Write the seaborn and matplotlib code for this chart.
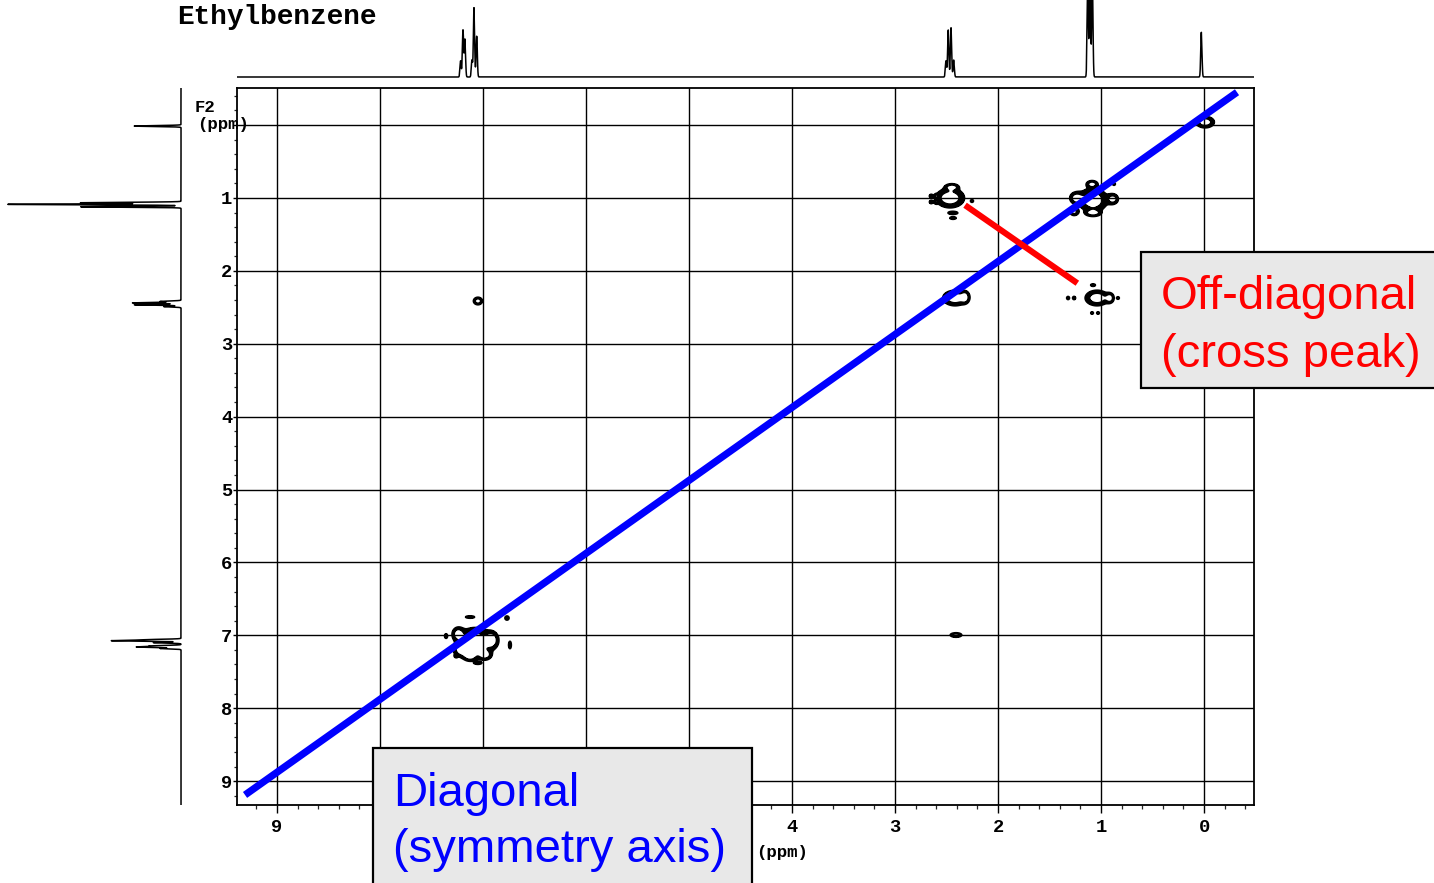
import numpy as np
import matplotlib
matplotlib.use("Agg")
import matplotlib.pyplot as plt
from matplotlib.patches import Rectangle
import seaborn as sns

W, H = 1434, 883

# ---- 1D projections: chemical shift (ppm) and relative height ----
f1_shift = [7.217, 7.194, 7.175, 7.107, 7.087, 7.061,
            2.505, 2.483, 2.456, 2.430,
            1.129, 1.107, 1.084,
            0.026]
f1_height = [0.21, 0.61, 0.49, 0.22, 0.90, 0.53,
             0.21, 0.61, 0.64, 0.22,
             1.20, 1.50, 1.20,
             0.58]

f2_shift = [7.180, 7.160, 7.145, 7.100, 7.074, 7.060,
            2.490, 2.465, 2.440, 2.420,
            1.121, 1.088, 1.066,
            0.014]
f2_height = [0.12, 0.25, 0.17, 0.16, 0.39, 0.18,
             0.10, 0.27, 0.28, 0.12,
             0.58, 1.00, 0.58,
             0.27]
line_sigma = 0.006

# ---- 2D COSY peak table: F1, F2 (ppm), amplitude, F1 / F2 widths (ppm) ----
peak_f1 = [-0.010,
           1.078, 1.087, 1.243, 1.262, 0.883, 1.078, 0.874,
           2.417, 2.320,
           2.466, 2.447, 2.437, 2.437, 2.650, 2.650, 2.602, 2.602, 2.252,
           1.039, 1.320, 1.262, 0.913, 0.835, 1.078, 1.087, 1.029,
           7.078, 7.204, 7.126, 6.981, 6.913, 7.243, 7.126, 6.767, 7.359, 6.738, 7.049, 7.262,
           7.049, 2.408, 0.427]
peak_f2 = [-0.040,
           1.029, 0.809, 1.001, 1.193, 1.015, 1.207, 0.809,
           2.373, 2.360,
           1.001, 0.850, 1.207, 1.276, 0.974, 1.056, 0.974, 1.056, 1.042,
           2.373, 2.373, 2.373, 2.373, 2.373, 2.195, 2.579, 2.579,
           7.092, 7.202, 7.284, 7.270, 7.064, 6.979, 6.749, 6.763, 7.010, 7.133, 7.380, 7.284,
           2.414, 6.996, 0.316]
peak_amp = [1.0,
            1.0, 0.9, 0.9, 0.8, 0.9, 0.9, 0.55,
            1.0, 0.9,
            1.0, 0.9, 0.55, 0.55, 0.55, 0.55, 0.55, 0.55, 0.5,
            1.0, 0.55, 0.55, 0.9, 0.5, 0.55, 0.5, 0.5,
            1.0, 0.9, 0.9, 0.9, 0.9, 0.9, 0.55, 0.55, 0.55, 0.55, 0.55, 0.5,
            1.0, 0.9, 0.55]
peak_w1 = [0.060,
           0.094, 0.034, 0.039, 0.029, 0.034, 0.045, 0.012,
           0.080, 0.024,
           0.094, 0.039, 0.039, 0.029, 0.012, 0.012, 0.012, 0.012, 0.012,
           0.077, 0.013, 0.013, 0.024, 0.012, 0.020, 0.013, 0.013,
           0.114, 0.049, 0.039, 0.039, 0.039, 0.034, 0.039, 0.019, 0.012, 0.012, 0.029, 0.012,
           0.029, 0.039, 0.019]
peak_w2 = [0.052,
           0.110, 0.030, 0.050, 0.034, 0.045, 0.027, 0.016,
           0.071, 0.048,
           0.090, 0.027, 0.016, 0.016, 0.016, 0.016, 0.016, 0.016, 0.016,
           0.071, 0.020, 0.020, 0.041, 0.016, 0.014, 0.016, 0.016,
           0.133, 0.055, 0.041, 0.041, 0.069, 0.055, 0.014, 0.027, 0.027, 0.048, 0.014, 0.016,
           0.034, 0.021, 0.016]
contour_levels = [0.33, 0.64]

# ---- annotation guide lines (ppm) ----
diag_f1 = [9.31, -0.32]
diag_f2 = [9.19, -0.45]
cross_f1 = [2.32, 1.23]
cross_f2 = [1.10, 2.17]

tick_values = list(range(10))
# labels 5-8 sit behind the "Diagonal" callout box
x_tick_labels = ["0", "1", "2", "3", "4", "", "", "", "", "9"]
y_tick_labels = ["", "1", "2", "3", "4", "5", "6", "7", "8", "9"]

f1_lim = (9.388, -0.485)
f2_lim = (9.328, -0.508)

sns.set_theme(style="white")
plt.rcParams["font.family"] = ["Liberation Sans", "DejaVu Sans"]

fig = plt.figure(figsize=(W / 100, H / 100), dpi=100)
fig.patch.set_facecolor("white")


def frac(x0, y0, x1, y1):
    return [x0 / W, 1 - y1 / H, (x1 - x0) / W, (y1 - y0) / H]


ax = fig.add_axes(frac(237, 88, 1254, 805))
ax_top = fig.add_axes(frac(237, 0, 1254, 80), sharex=ax)
ax_left = fig.add_axes(frac(0, 88, 185, 805), sharey=ax)

# ---- 2D contour map ----
gx = np.arange(f1_lim[1], f1_lim[0], 0.005)
gy = np.arange(f2_lim[1], f2_lim[0], 0.007)
Z = np.zeros((gy.size, gx.size))
for c1, c2, a, s1, s2 in zip(peak_f1, peak_f2, peak_amp, peak_w1, peak_w2):
    px = np.exp(-0.5 * ((gx - c1) / s1) ** 2)
    py = np.exp(-0.5 * ((gy - c2) / s2) ** 2)
    Z += a * np.outer(py, px)

ax.contourf(gx, gy, Z, levels=contour_levels, colors="black", zorder=3)
ax.contour(gx, gy, Z, levels=contour_levels, colors="black", linewidths=1.3, zorder=3)

sns.lineplot(x=diag_f1, y=diag_f2, ax=ax, color="#0000ff", lw=5.2,
             sort=False, estimator=None, solid_capstyle="butt", zorder=5)
sns.lineplot(x=cross_f1, y=cross_f2, ax=ax, color="#ff0000", lw=4.4,
             sort=False, estimator=None, solid_capstyle="butt", zorder=5)

ax.set_xlim(*f1_lim)
ax.set_ylim(*f2_lim)
ax.set_xticks(tick_values)
ax.set_xticklabels(x_tick_labels)
ax.set_yticks(tick_values)
ax.set_yticklabels(y_tick_labels)
ax.set_xticks(np.arange(-0.4, 9.4, 0.2), minor=True)
ax.set_yticks(np.arange(-0.4, 9.4, 0.2), minor=True)
ax.grid(True, which="major", color="black", lw=1.0)
ax.set_axisbelow(True)
ax.set_facecolor("white")
for s in ax.spines.values():
    s.set_color("black")
    s.set_linewidth(1.3)
tick_font = dict(family="Liberation Mono", weight="bold", size=13.5)
ax.tick_params(axis="x", which="major", direction="out", length=6, width=1.0,
               pad=4, bottom=True, colors="black")
ax.tick_params(axis="x", which="minor", direction="out", length=3, width=0.9, bottom=True)
ax.tick_params(axis="y", which="major", direction="out", length=3, width=1.0,
               pad=0.5, left=True, colors="black")
ax.tick_params(axis="y", which="minor", direction="out", length=2.5, width=0.9, left=True)
for lab in ax.get_xticklabels() + ax.get_yticklabels():
    lab.set_fontproperties(tick_font)
ax.set_xlabel("")
ax.set_ylabel("")

# ---- 1D projections ----
ppm_axis = np.arange(-0.6, 9.5, 0.0004)


def projection(shifts, heights):
    trace = np.zeros_like(ppm_axis)
    for c, h in zip(shifts, heights):
        trace += h * np.exp(-0.5 * ((ppm_axis - c) / line_sigma) ** 2)
    return trace


top_trace = projection(f1_shift, f1_height)
sns.lineplot(x=ppm_axis, y=top_trace, ax=ax_top, color="black", lw=1.1,
             sort=False, estimator=None)
ax_top.set_ylim(-0.039, 1.0)
ax_top.axis("off")

left_trace = projection(f2_shift, f2_height)
sns.lineplot(x=left_trace, y=ppm_axis, ax=ax_left, color="black", lw=1.1,
             sort=False, estimator=None, orient="y")
ax_left.set_xlim(1.046, -0.023)
ax_left.axis("off")
ax.set_xlim(*f1_lim)
ax.set_ylim(*f2_lim)

# ---- labels ----
mono = dict(family="Liberation Mono", weight="bold", color="black")
fig.text(177 / W, 1 - 24 / H, "Ethylbenzene", ha="left", va="baseline", size=20, **mono)
fig.text(195 / W, 1 - 112 / H, "F2", ha="left", va="baseline", size=12.5, **mono)
fig.text(197 / W, 1 - 129 / H, "(ppm)", ha="left", va="baseline", size=12.5, **mono)
fig.text(756 / W, 1 - 857 / H, "(ppm)", ha="left", va="baseline", size=12.5, **mono)

# ---- callout boxes ----
box_style = dict(facecolor="#e8e8e8", edgecolor="black", linewidth=1.6,
                 transform=fig.transFigure, zorder=10)
fig.add_artist(Rectangle((1141 / W, 1 - 388 / H), 310 / W, 136 / H, **box_style))
fig.add_artist(Rectangle((373 / W, 1 - 895 / H), 379 / W, 147 / H, **box_style))

callout = dict(family=["Liberation Sans", "DejaVu Sans"], size=34, ha="left",
               va="baseline", zorder=11)
fig.text(1161 / W, 1 - 309 / H, "Off-diagonal", color="#ff0000", **callout)
fig.text(1161 / W, 1 - 367 / H, "(cross peak)", color="#ff0000", **callout)
fig.text(393 / W, 1 - 806 / H, "Diagonal", color="#0000ff", **callout)
fig.text(393 / W, 1 - 862 / H, "(symmetry axis)", color="#0000ff", **callout)

fig.savefig("out.png", dpi=100, facecolor="white")
